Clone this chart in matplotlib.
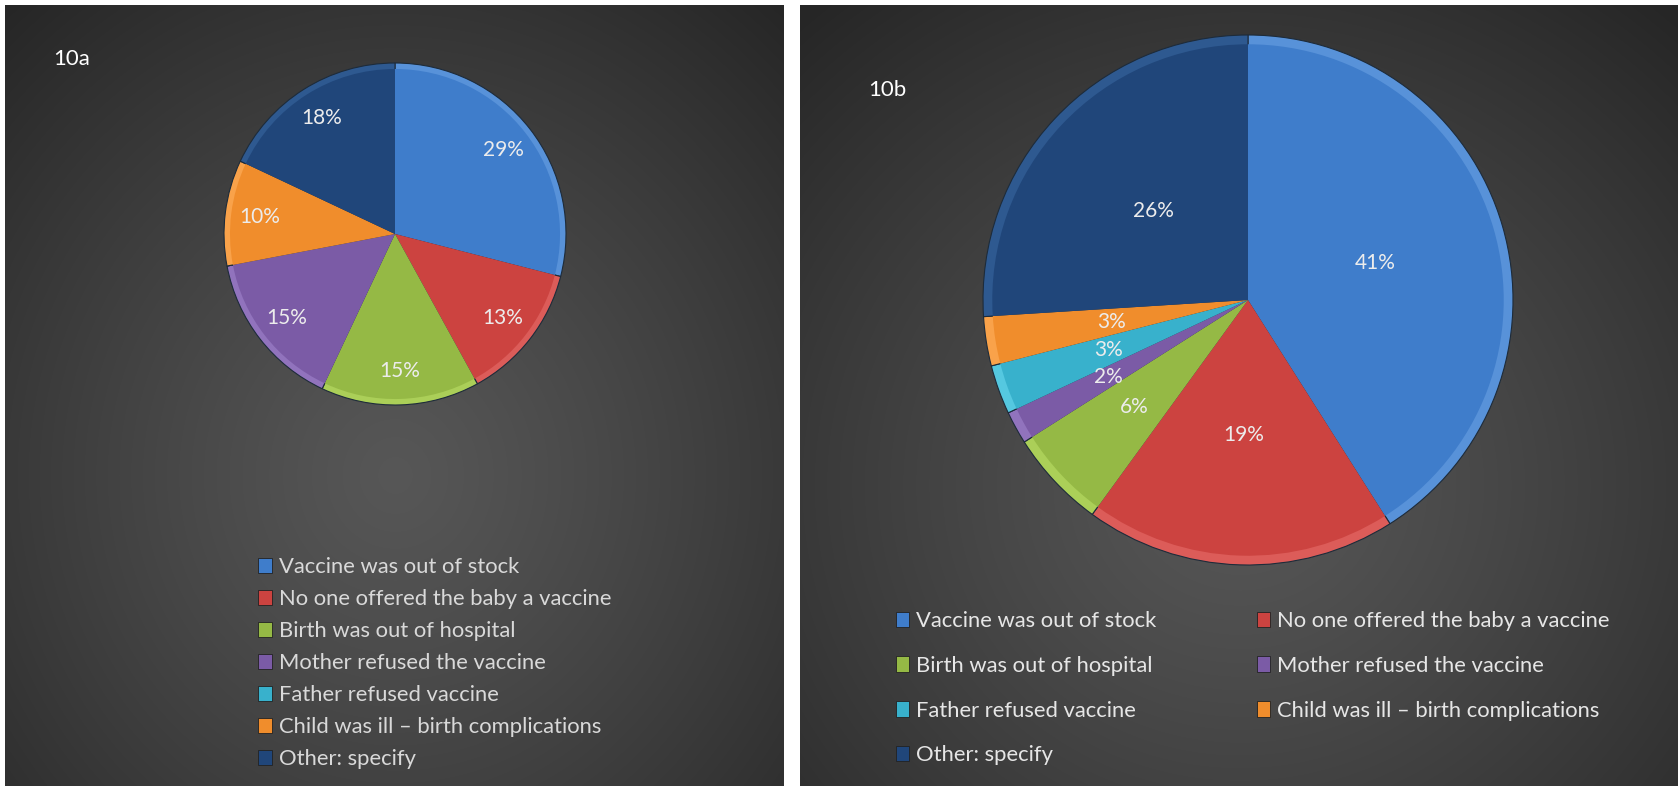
import numpy as np
import matplotlib
matplotlib.use("Agg")
import matplotlib.pyplot as plt
from matplotlib.patches import Patch

plt.rcParams['font.family'] = ['Lato', 'DejaVu Sans']

categories = ["Vaccine was out of stock",
              "No one offered the baby a vaccine",
              "Birth was out of hospital",
              "Mother refused the vaccine",
              "Father refused vaccine",
              "Child was ill \u2013 birth complications",
              "Other: specify"]
share_10a = [29, 13, 15, 15, 0, 10, 18]
share_10b = [41, 19, 6, 2, 3, 3, 26]
colors = ["#3f7dcb", "#cc4340", "#95b945", "#7b5ba6", "#38b1cc", "#f08d2c", "#20467a"]
rims = ["#5892d9", "#dc5c59", "#abcf58", "#9173bd", "#55c8e0", "#f9a24a", "#2e5990"]

W, H = 1678, 786
fig = plt.figure(figsize=(W / 100, H / 100), dpi=100, facecolor="white")


def panel(x0, x1, cx, cy):
    ax = fig.add_axes([x0 / W, 0, (x1 - x0) / W, (H - 5) / H])
    ax.set_axis_off()
    w, h = x1 - x0, H - 5
    xx, yy = np.meshgrid(np.arange(w), np.arange(h))
    d = np.sqrt(((xx - cx) / (w * 0.75)) ** 2 + ((yy - cy) / (h * 0.8)) ** 2)
    v = 0.34 - 0.19 * np.clip(d, 0, 1) ** 1.2
    ax.imshow(np.dstack([v, v, v]), aspect="auto", extent=(0, w, h, 0))
    ax.set_xlim(0, w)
    ax.set_ylim(h, 0)
    return ax


panel(5, 784, 390, 470)
panel(800, W, 440, 480)


def pie_axes(cx, cy, r):
    return fig.add_axes([(cx - r) / W, (H - cy - r) / H, 2 * r / W, 2 * r / H])


def draw_pie(ax, vals, dists):
    ax.pie(vals, colors=rims, startangle=90, counterclock=False, radius=1.0,
           wedgeprops=dict(edgecolor="#1d2b3a", linewidth=0.8))
    wedges, texts, autotexts = ax.pie(
        vals, colors=colors, startangle=90, counterclock=False, radius=0.965,
        autopct=lambda p: "%d%%" % round(p) if p > 0.5 else "",
        pctdistance=1.0, wedgeprops=dict(edgecolor="none"),
        textprops=dict(color="#ececec", fontsize=15))
    k = 0
    for t, v in zip(autotexts, vals):
        x, y = t.get_position()
        t.set_position((x * dists[k] / 0.965, y * dists[k] / 0.965))
        k += 1
    ax.set_xlim(-1, 1)
    ax.set_ylim(-1, 1)
    ax.set_aspect("auto")


ax_a = pie_axes(395, 234, 171)
draw_pie(ax_a, share_10a, [0.8] * 7)
ax_b = pie_axes(1248, 300, 265)
draw_pie(ax_b, share_10b, [0.5, 0.51, 0.59, 0.6, 0.56, 0.52, 0.49])

fig.text(53 / W, 1 - 59 / H, "10a", color="white", fontsize=16, va="center")
fig.text(868 / W, 1 - 90 / H, "10b", color="white", fontsize=16, va="center")

handles = [Patch(facecolor=c, edgecolor="#222222", linewidth=0.6) for c in colors]
fig.legend(handles, categories, loc="upper left", bbox_to_anchor=(258 / W, 1 - 557 / H),
           frameon=False, fontsize=15.8, labelcolor="#d9d9d9", borderpad=0,
           borderaxespad=0, handlelength=0.65, handleheight=0.65, handletextpad=0.3,
           labelspacing=0.55)

order = [0, 2, 4, 6, 1, 3, 5]
fig.legend([handles[i] for i in order], [categories[i] for i in order], ncol=2,
           loc="upper left", bbox_to_anchor=(896 / W, 1 - 611 / H),
           frameon=False, fontsize=15.8, labelcolor="#e6e6e6", borderpad=0,
           borderaxespad=0, handlelength=0.6, handleheight=0.7, handletextpad=0.3,
           labelspacing=1.13, columnspacing=4.6)

fig.savefig("out.png", dpi=100, facecolor="white")
